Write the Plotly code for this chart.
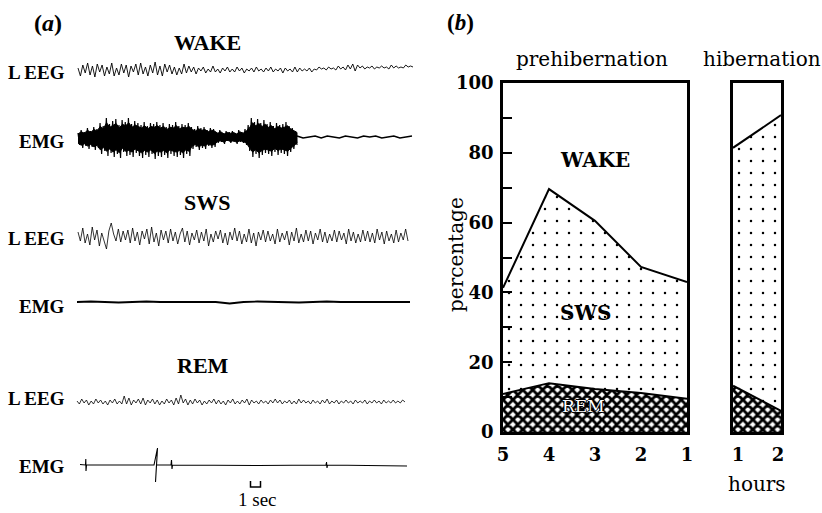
import numpy as np
import plotly.graph_objects as go

W, H = 822, 513

# ---------------- data : panel (b) ----------------
pre_hours = [5, 4, 3, 2, 1]
pre_rem = [10.9, 14.0, 12.3, 11.2, 9.5]          # % REM
pre_sws = [30.4, 55.6, 48.2, 36.1, 33.5]         # % SWS
hib_hours = [1, 2]
hib_rem = [12.5, 6.5]
hib_sws = [69.9, 83.7]
pct_ticks = [0, 20, 40, 60, 80, 100]
pct_minor = [10, 30, 50, 70, 90]

# ---------------- data : panel (a) traces (deflection, px-like units) ----------------
wake_eeg = [2,-6,5,-3,7,-5,4,-7,6,-2,5,-6,3,-4,7,-6,2,-5,6,-3,
            5,-7,4,-2,6,-5,7,-4,3,-6,5,-3,8,-5,4,-6,6,-2,5,-4,
            3,-5,2,-4,6,-3,4,-2,3,-4,2,-1,3,-3,1,-2,4,-2,1,-3,
            2,-1,3,-2,1,-2,3,-1,2,-3,1,-1,2,-2,3,-1,1,-2,2,-1,
            3,-2,1,-1,2,-3,2,-1,1,-2,3,-2,2,-1,1,-1,2,-2,1,0,
            3,1,2,0,3,1,2,0,4,1,3,0,5,1,6,-1,5,2,4,1,
            3,2,4,1,3,2,4,2,3,1,5,2,4,2,3,2,5,3,4,3]
wake_emg_upper = [4,7,5,9,6,10,8,
                  14,11,19,13,16,18,12,17,15,19,13,16,14,
                  12,15,11,14,13,15,12,14,10,13,12,15,11,13,12,14,
                  10,8,11,9,10,7,9,8,
                  5,7,4,6,5,6,4,7,5,8,
                  12,19,15,18,14,17,
                  13,15,11,14,12,13,15,11,9,6]
wake_emg_lower = [-8,-11,-9,-12,-10,-13,-11,
                  -17,-14,-19,-16,-20,-17,-21,-15,-19,-18,-20,-16,-19,
                  -21,-18,-20,-17,-22,-19,-20,-18,-21,-17,-19,-20,-18,-21,-17,-19,
                  -12,-10,-13,-11,-12,-9,-11,-10,
                  -6,-5,-7,-4,-6,-5,-7,-5,-6,-8,
                  -14,-20,-17,-21,-18,-16,
                  -17,-19,-15,-18,-16,-17,-19,-15,-12,-8]
wake_emg_tail = [1,-1,0,1,-1,1,0,-1,1,0,-1,1,0,1,-1,0,1,-1,0,1]
sws_eeg = [5,-4,9,-6,3,-8,10,-3,7,-9,4,-5,-12,6,14,3,-4,8,-5,6,
           -3,7,-6,9,-4,5,-8,6,-2,8,-7,10,-5,4,-9,7,-3,6,-6,8,
           -4,5,-7,3,9,-5,6,-8,4,-3,7,-6,5,-4,8,-9,3,-5,6,-2,
           7,-6,4,-8,5,-3,9,-4,6,-7,3,-5,8,-6,4,-9,5,-3,7,-5,
           6,-4,3,-7,8,-5,4,-3,6,-8,5,-4,9,-6,3,-5,7,-4,6,-7,
           4,-3,8,-5,5,-6,3,-4,7,-5,6,-3,4,-7,8,-4,5,-6,3,-5,
           7,-4,6,-5,4,-6,8,-3,5,-7,6,-4,3,-6,7,-5,4,-3,8,-4]
sws_emg = [0,0.5,0,-0.5,0,0.5,0,0,-0.5,0,0,-1.5,0,0.5,0,0,-0.5,0,0.5,0,0,-0.5,0,0,0]
rem_eeg = [1,-2,3,-1,2,-3,1,-2,3,-1,2,-2,1,-3,2,-1,3,-2,1,-2,
           6,-2,4,-3,2,-1,3,-2,4,-3,2,-1,3,-2,2,-3,1,-2,3,-1,
           2,-3,4,-2,7,-1,3,-3,2,-2,3,-1,2,-3,1,-2,2,-1,3,-2,
           2,-2,1,-3,2,-1,3,-2,1,-2,2,-1,3,-3,2,-1,1,-2,2,-1,
           1,-2,2,-1,3,-1,2,-2,1,-1,2,-2,1,-2,3,-1,2,-1,1,-2,
           2,-1,1,-2,2,-1,3,-2,1,-1,2,-2,1,-1,2,-1,1,-2,2,-1,
           1,-1,2,-2,1,-1,2,-1,1,-2,2,-1,1,-1,2,-1,1,-1,2,0]
rem_emg_t = [0.2,0.75,0.78,0.8,0.82,0.85,7.6,7.95,7.9,7.8,7.75,7.85,8.3,9.3,9.35,9.4,9.45,18.0,24.8,24.85,24.9,24.95,32.9]
rem_emg_v = [0.5,0,6,-6,0,0,0,17,8,-6,-17,0,0,0,5,-4,0,-0.5,0,3,-3,0,-1]

# ---------------- layout helpers ----------------
def PX(p):
    return p / W

def PY(p):
    return 1 - p / H

LEFT_FONT = "Liberation Serif"
RIGHT_FONT = "DejaVu Serif"

rows = dict(wake_eeg=70, wake_emg=137, sws_eeg=237, sws_emg=302, rem_eeg=402, rem_emg=465)
span = dict(wake_eeg=(0, 33.5), wake_emg_dense=(0, 21.9), wake_emg_tail=(21.9, 33.4),
            sws_eeg=(0, 33.0), sws_emg=(-0.1, 33.2), rem_eeg=(-0.1, 32.7))
EMG_CORE = 0.75   # share of the burst envelope drawn as a solid core

fig = go.Figure()

def trace_line(vals, key, base, width=1.0):
    t = np.linspace(span[key][0], span[key][1], len(vals))
    y = base - np.asarray(vals, dtype=float)
    fig.add_trace(go.Scatter(x=t, y=y, mode="lines", line=dict(color="black", width=width),
                             xaxis="x", yaxis="y", hoverinfo="skip", showlegend=False))

trace_line(wake_eeg, "wake_eeg", rows["wake_eeg"], 0.9)
# dense EMG burst: solid core + zig-zag strokes reaching the envelope values
n = len(wake_emg_upper)
td = np.linspace(span["wake_emg_dense"][0], span["wake_emg_dense"][1], n)
upv = np.asarray(wake_emg_upper, float)
lov = np.asarray(wake_emg_lower, float)
core_up = rows["wake_emg"] - EMG_CORE * upv
core_lo = rows["wake_emg"] - EMG_CORE * lov
fig.add_trace(go.Scatter(x=np.concatenate([td, td[::-1]]), y=np.concatenate([core_up, core_lo[::-1]]),
                         mode="lines", fill="toself", fillcolor="black",
                         line=dict(color="black", width=1), xaxis="x", yaxis="y",
                         hoverinfo="skip", showlegend=False))
tz = np.linspace(span["wake_emg_dense"][0], span["wake_emg_dense"][1], 2 * n)
yz = np.empty(2 * n)
yz[0::2] = rows["wake_emg"] - upv
yz[1::2] = rows["wake_emg"] - lov
fig.add_trace(go.Scatter(x=tz, y=yz, mode="lines", line=dict(color="black", width=1.2),
                         xaxis="x", yaxis="y", hoverinfo="skip", showlegend=False))
trace_line(wake_emg_tail, "wake_emg_tail", rows["wake_emg"], 1.5)
trace_line(sws_eeg, "sws_eeg", rows["sws_eeg"], 0.8)
trace_line(sws_emg, "sws_emg", rows["sws_emg"], 1.8)
trace_line(rem_eeg, "rem_eeg", rows["rem_eeg"], 0.8)
fig.add_trace(go.Scatter(x=rem_emg_t, y=rows["rem_emg"] - np.asarray(rem_emg_v, float), mode="lines",
                         line=dict(color="black", width=1.1), xaxis="x", yaxis="y",
                         hoverinfo="skip", showlegend=False))

# ---------------- panel (b) ----------------
hatch = dict(shape="x", fgcolor="black", bgcolor="white", size=7, solidity=0.65, fillmode="replace")
stipple = dict(shape=".", fgcolor="black", bgcolor="white", size=12, solidity=0.035, fillmode="replace")

pre_total = [r + s for r, s in zip(pre_rem, pre_sws)]
fig.add_trace(go.Scatter(x=pre_hours, y=pre_rem, mode="lines", fill="tozeroy", fillpattern=hatch,
                         line=dict(color="black", width=2), xaxis="x2", yaxis="y2",
                         showlegend=False, hoverinfo="skip"))
fig.add_trace(go.Scatter(x=pre_hours, y=pre_total, mode="lines", fill="tonexty", fillpattern=stipple,
                         line=dict(color="black", width=2), xaxis="x2", yaxis="y2",
                         showlegend=False, hoverinfo="skip"))

HIB_RANGE = [0.875, 2.075]
def extend(hours, vals):
    slope = (vals[1] - vals[0]) / (hours[1] - hours[0])
    xs = [HIB_RANGE[0]] + list(hours) + [HIB_RANGE[1]]
    ys = [vals[0] + slope * (x - hours[0]) for x in xs]
    return xs, ys

hib_total = [r + s for r, s in zip(hib_rem, hib_sws)]
hx, hr = extend(hib_hours, hib_rem)
_, ht = extend(hib_hours, hib_total)
fig.add_trace(go.Scatter(x=hx, y=hr, mode="lines", fill="tozeroy", fillpattern=hatch,
                         line=dict(color="black", width=2), xaxis="x3", yaxis="y3",
                         showlegend=False, hoverinfo="skip"))
fig.add_trace(go.Scatter(x=hx, y=ht, mode="lines", fill="tonexty", fillpattern=stipple,
                         line=dict(color="black", width=2), xaxis="x3", yaxis="y3",
                         showlegend=False, hoverinfo="skip"))

ydom = [PY(432), PY(83)]
box = dict(showline=True, linecolor="black", linewidth=2.5, mirror=True, showgrid=False,
           zeroline=False, automargin=False)

ann = []
def A(text, x, y, size, font=LEFT_FONT, bold=False, color="black", xanchor="center",
      yanchor="middle", **kw):
    t = f"<b>{text}</b>" if bold else text
    d = dict(text=t, x=PX(x), y=PY(y), xref="paper", yref="paper", showarrow=False,
             xanchor=xanchor, yanchor=yanchor,
             font=dict(family=font, size=size, color=color))
    d.update(kw)
    ann.append(d)

# left panel labels
A("(<i>a</i>)", 48, 23, 24, bold=True)
A("WAKE", 207, 42, 22, bold=True)
A("SWS", 207, 203, 22, bold=True)
A("REM", 203, 365, 22, bold=True)
for lab, yy in [("L EEG", 72), ("EMG", 141), ("L EEG", 238), ("EMG", 306), ("L EEG", 398), ("EMG", 466)]:
    A(lab, 67, yy, 19, bold=True, xanchor="right")
A("1 sec", 257, 499, 19)

# right panel labels
A("(<i>b</i>)", 460, 23, 23, bold=True)
A("prehibernation", 592, 59, 20, font=RIGHT_FONT)
A("hibernation", 762, 59, 20, font=RIGHT_FONT)
A("percentage", 456, 255, 20, font=RIGHT_FONT, textangle=-90)
A("WAKE", 595, 160, 20, font=RIGHT_FONT, bold=True)
A("SWS", 585, 313, 20, font=RIGHT_FONT, bold=True)
ann.append(dict(text="REM", x=PX(583), y=PY(406), xref="paper", yref="paper", showarrow=False,
                xanchor="center", yanchor="middle",
                font=dict(family=RIGHT_FONT, size=17, color="white",
                          shadow="1px 0 0 black, -1px 0 0 black, 0 1px 0 black, 0 -1px 0 black")))
A("hours", 757, 484, 20, font=RIGHT_FONT)

fig.update_layout(
    width=W, height=H, margin=dict(l=0, r=0, t=0, b=0, pad=0, autoexpand=False),
    paper_bgcolor="white", plot_bgcolor="rgba(0,0,0,0)",
    xaxis=dict(domain=[0, PX(420)], range=[-7.8, 34.2], visible=False, automargin=False),
    yaxis=dict(domain=[0, 1], range=[H, 0], visible=False, automargin=False),
    xaxis2=dict(domain=[PX(503), PX(687)], range=[5, 1], anchor="y2", tickvals=pre_hours,
                ticks="", ticklabelstandoff=5,
                tickfont=dict(family=RIGHT_FONT, size=18, color="black", weight="bold"), **box),
    yaxis2=dict(domain=ydom, range=[0, 100], anchor="x2", tickvals=pct_ticks,
                ticks="inside", ticklen=9, tickwidth=2, tickcolor="black", ticklabelstandoff=3,
                minor=dict(tickvals=pct_minor, ticks="inside", ticklen=9, tickwidth=2, tickcolor="black"),
                tickfont=dict(family=RIGHT_FONT, size=18, color="black", weight="bold"), **box),
    xaxis3=dict(domain=[PX(733), PX(781)], range=HIB_RANGE, anchor="y3", tickvals=hib_hours,
                ticks="", ticklabelstandoff=5,
                tickfont=dict(family=RIGHT_FONT, size=18, color="black", weight="bold"), **box),
    yaxis3=dict(domain=ydom, range=[0, 100], anchor="x3", showticklabels=False, ticks="", **box),
    annotations=ann,
    shapes=[dict(type="path", xref="x", yref="y",
                 path="M 17.25 481 L 17.25 487 L 18.25 487 L 18.25 481",
                 line=dict(color="black", width=1.5))],
)

fig.write_html("out.html")
